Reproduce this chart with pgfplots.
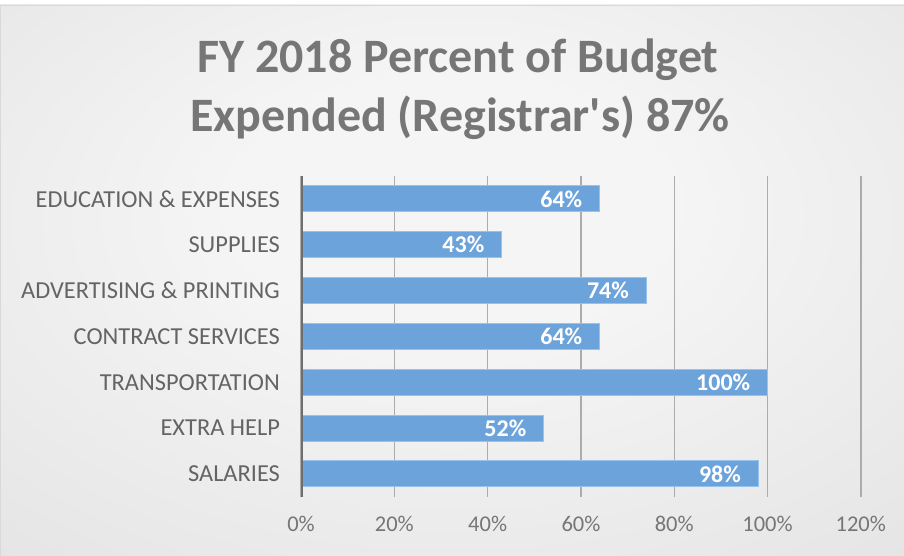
\documentclass[border=0pt]{standalone}
\usepackage{fontspec}
\setmainfont{Carlito}
\usepackage{pgfplots}
\pgfplotsset{compat=1.18}
\definecolor{barblue}{RGB}{108,163,218}
\definecolor{baredge}{RGB}{150,195,235}
\definecolor{titlegray}{RGB}{118,118,118}
\definecolor{labgray}{RGB}{100,100,100}
\definecolor{tickgray}{RGB}{118,118,118}
\definecolor{gridgray}{RGB}{172,172,172}
\definecolor{axgray}{RGB}{110,110,110}
\definecolor{bgin}{RGB}{245,245,245}
\definecolor{bgmid}{RGB}{222,222,222}
\definecolor{bgout}{RGB}{205,205,205}
\pgfdeclareradialshading{chartbg}{\pgfpoint{0bp}{8bp}}{color(0bp)=(bgin); color(12bp)=(bgin); color(50bp)=(bgmid); color(75bp)=(bgout)}
\begin{document}
\begin{tikzpicture}
\shade[shading=chartbg, draw=gray!30] (0,0) rectangle (904bp,551bp);
\path (0,0) rectangle (904bp,556bp);
\node[anchor=base, text=titlegray, font=\fontsize{48bp}{52bp}\selectfont\bfseries] at (458bp,483bp) {FY 2018 Percent of Budget};
\node[anchor=base, text=titlegray, font=\fontsize{48bp}{52bp}\selectfont\bfseries] at (460bp,424bp) {Expended (Registrar\textquotesingle s) 87\%};
\begin{axis}[
  at={(301bp,59bp)}, anchor=south west,
  scale only axis, width=560bp, height=321bp,
  xbar, bar width=26bp,
  xmin=0, xmax=120, ymin=-0.5, ymax=6.5,
  xtick={0,20,...,120},
  ytick={0,...,6},
  yticklabels={SALARIES,EXTRA HELP,TRANSPORTATION,CONTRACT SERVICES,ADVERTISING \& PRINTING,SUPPLIES,EDUCATION \& EXPENSES},
  xticklabel={\pgfmathprintnumber{\tick}\%},
  /pgf/number format/assume math mode=true,
  axis line style={draw=none},
  major tick length=0pt,
  xmajorgrids, grid style={draw=gridgray, line width=1.4bp},
  xticklabel style={font=\fontsize{22.5bp}{26bp}\selectfont, text=tickgray, anchor=north, inner sep=0pt, yshift=-19bp},
  yticklabel style={font=\fontsize{24.4bp}{28bp}\selectfont, text=labgray, anchor=east, inner sep=0pt, xshift=-21bp},
  nodes near coords={\pgfmathprintnumber{\pgfplotspointmeta}\%},
  point meta=x,
  nodes near coords style={anchor=east, text=white, font=\fontsize{24bp}{28bp}\selectfont\bfseries, inner sep=0pt, xshift=-17bp},
]
\addplot[fill=barblue, draw=baredge, line width=0.8bp] coordinates {
  (98,0) (52,1) (100,2) (64,3) (74,4) (43,5) (64,6)
};
\draw[line width=3bp, axgray] (axis cs:0,-0.5) -- (axis cs:0,6.5);
\end{axis}
\end{tikzpicture}
\end{document}
